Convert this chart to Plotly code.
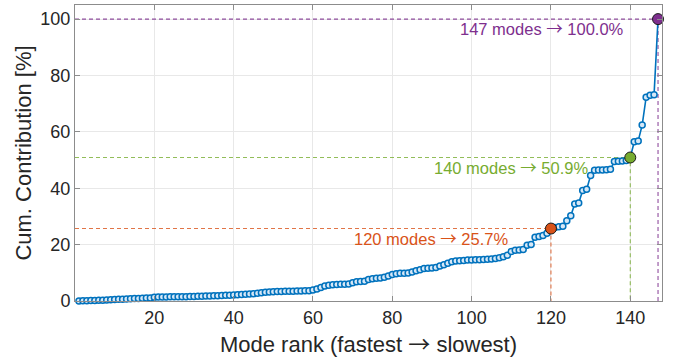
import plotly.graph_objects as go

# Cumulative contribution (%) of modes ranked fastest -> slowest
cum_contrib = [
    0.0, 0.05, 0.1, 0.15, 0.2, 0.25, 0.3, 0.35, 0.45, 0.5,
    0.6, 0.65, 0.7, 0.8, 0.85, 0.9, 1.0, 1.05, 1.1,
    1.35, 1.4, 1.45, 1.45, 1.5, 1.5, 1.5, 1.55, 1.55, 1.6, 1.6, 1.65, 1.7, 1.75, 1.8,
    1.85, 1.9, 1.95, 2.0, 2.05, 2.1, 2.2, 2.3, 2.4, 2.5, 2.6, 2.75, 2.9,
    3.1, 3.2, 3.3, 3.35, 3.4, 3.45, 3.5, 3.5, 3.55, 3.55, 3.6, 3.65,
    3.9, 4.3, 4.8, 5.3, 5.6,
    5.8, 5.85, 5.9, 5.95, 6.0,
    6.5, 6.8, 6.9, 7.0,
    7.6, 7.9, 8.1, 8.2, 8.4,
    8.9, 9.4,
    9.7, 9.8, 9.85, 9.9,
    10.3, 10.7, 11.1,
    11.5, 11.6, 11.7, 11.9,
    12.4, 12.9, 13.4, 13.9,
    14.2, 14.3, 14.4, 14.5, 14.5, 14.6, 14.6, 14.7, 14.8, 14.9,
    15.1, 15.3, 15.7, 16.2,
    17.6, 18.0, 18.1, 18.3,
    19.8, 20.0,
    22.6, 22.9, 23.2,
    24.0,
    25.7,
    26.1, 26.3, 26.5,
    28.5,
    30.2,
    34.4, 34.8,
    39.2, 39.6,
    44.5,
    46.4, 46.5, 46.5, 46.6, 46.7,
    49.5, 49.6, 49.7, 49.8,
    50.9,
    56.5, 56.8,
    62.4,
    72.3,
    73.0, 73.2,
    100.0,
]
mode_rank = list(range(1, len(cum_contrib) + 1))

# Highlighted thresholds and where their labels end (in rank units)
mark_ranks = [120, 140, 147]
label_right = [109.7, 129.9, 139.0]
mark_colors = ["#D95319", "#77AC30", "#7E2F8E"]
dash_colors = ["rgba(217,83,25,0.8)", "rgba(119,172,48,0.8)", "rgba(126,47,142,0.85)"]

x_ticks = [20, 40, 60, 80, 100, 120, 140]
y_ticks = [0, 20, 40, 60, 80, 100]

FONT = "Liberation Sans, Arial, sans-serif"
ARROW = '<span style="font-family:Noto Sans CJK SC">\u2192</span>'

fig = go.Figure()

for r, dc in zip(mark_ranks, dash_colors):
    v = cum_contrib[r - 1]
    fig.add_trace(go.Scatter(
        x=[0, r, r], y=[v, v, 0], mode="lines",
        line=dict(color=dc, width=1.1, dash="4px,3px"),
        hoverinfo="skip", showlegend=False, cliponaxis=False,
    ))

fig.add_trace(go.Scatter(
    x=mode_rank, y=cum_contrib, mode="lines+markers",
    line=dict(color="#0072BD", width=1.6),
    marker=dict(symbol="circle", size=6, color="rgba(215,232,247,1)",
                line=dict(color="#0072BD", width=1.5)),
    showlegend=False, cliponaxis=False,
))

for r, xr, c in zip(mark_ranks, label_right, mark_colors):
    v = cum_contrib[r - 1]
    fig.add_trace(go.Scatter(
        x=[r], y=[v], mode="markers",
        marker=dict(size=11, color=c, line=dict(color="#1a1a1a", width=1)),
        showlegend=False, cliponaxis=False,
    ))
    fig.add_annotation(
        x=xr, y=v, xref="x", yref="y",
        text=f"{r} modes {ARROW} {v:.1f}%", showarrow=False,
        xanchor="right", yanchor="top", yshift=5,
        font=dict(family=FONT, size=16.5, color=c),
    )

axis_common = dict(
    showline=True, linecolor="#8c8c8c", linewidth=1, mirror="ticks",
    ticks="inside", ticklen=5, tickcolor="#8c8c8c",
    showgrid=True, gridcolor="#e8e8e8", gridwidth=1, zeroline=False,
    tickfont=dict(family=FONT, size=18, color="#262626"),
)

fig.update_xaxes(
    range=[0, 148], tickvals=x_ticks,
    title=dict(text=f"Mode rank (fastest {ARROW} slowest)", standoff=6,
               font=dict(family=FONT, size=22, color="#262626")),
    **axis_common,
)
fig.update_yaxes(
    range=[0, 105], tickvals=y_ticks,
    title=dict(text="Cum. Contribution [%]", standoff=2,
               font=dict(family=FONT, size=22, color="#262626")),
    **axis_common,
)

fig.update_layout(
    width=673, height=358,
    margin=dict(l=75, r=11, t=5, b=57, autoexpand=False),
    plot_bgcolor="white", paper_bgcolor="white",
)

fig.write_html("out.html")
